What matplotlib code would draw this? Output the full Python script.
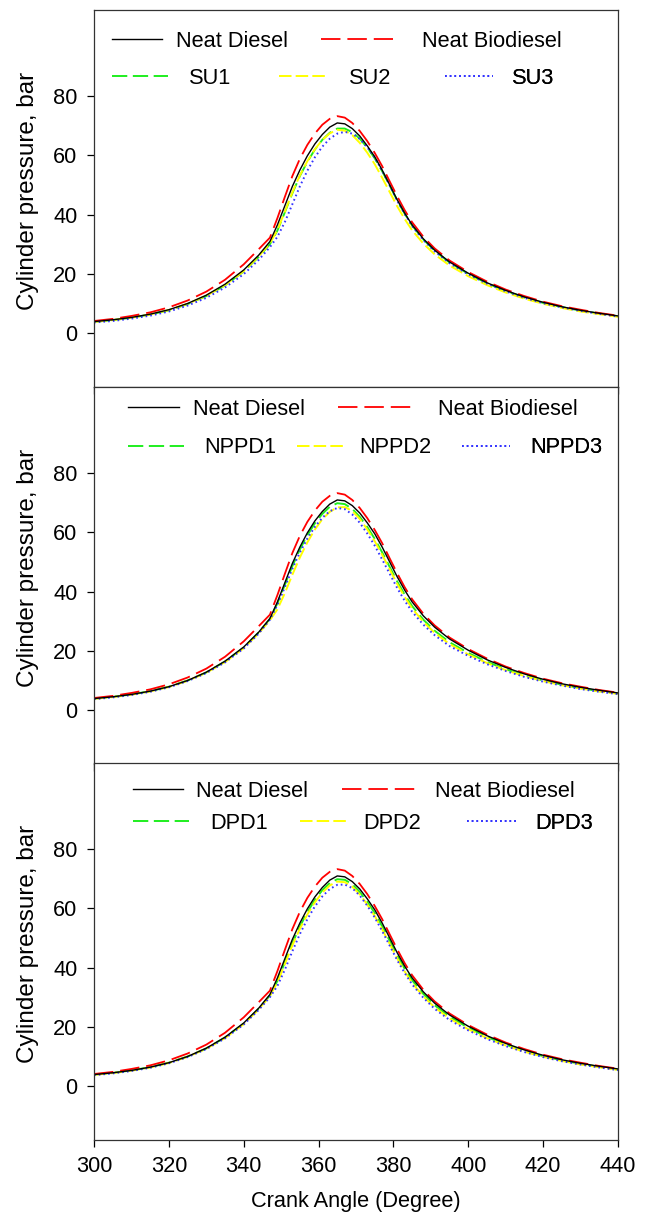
import matplotlib
matplotlib.use('Agg')
import matplotlib.pyplot as plt
from matplotlib.lines import Line2D

plt.rcParams['font.family'] = ['Liberation Sans', 'DejaVu Sans']
plt.rcParams['lines.scale_dashes'] = False

# crank angle (degree)
crank_angle = [300, 305, 310, 315, 320, 325, 330, 335, 340, 344, 347, 349, 351, 353, 355, 357, 359,
               361, 363, 365, 367, 369, 371, 373, 375, 377, 379, 381, 383, 385, 388, 391, 395, 400,
               405, 410, 415, 420, 425, 430, 435, 440]

# reference fuels (same in every panel)
neat_diesel = [3.9, 4.5, 5.3, 6.4, 7.9, 10.0, 12.8, 16.5, 21.3, 26.3, 30.9, 36.5, 43.0, 49.5, 55.0, 59.8, 63.8,
               67.0, 69.5, 70.9, 70.6, 69.0, 66.5, 63.2, 59.5, 55.0, 50.0, 45.0, 40.5, 36.5, 31.8, 28.0, 24.0, 20.2,
               17.0, 14.4, 12.2, 10.4, 8.9, 7.7, 6.7, 5.8]
neat_biodiesel = [4.1, 4.8, 5.8, 7.0, 8.7, 11.0, 14.0, 18.0, 23.2, 28.3, 32.2, 38.8, 46.0, 53.0, 58.8, 63.5, 67.3,
                  70.3, 72.3, 73.2, 72.7, 70.9, 68.2, 64.8, 60.8, 56.3, 51.2, 46.2, 41.5, 37.4, 32.5, 28.6, 24.5, 20.6,
                  17.4, 14.7, 12.5, 10.6, 9.1, 7.9, 6.8, 5.9]

# panel 1: SU blends
su1 = [3.8, 4.4, 5.2, 6.3, 7.7, 9.8, 12.5, 16.1, 20.8, 25.7, 30.0, 34.6, 40.8, 47.2, 53.0, 57.8, 61.9,
       65.2, 67.6, 69.0, 69.0, 67.8, 65.6, 62.6, 59.0, 54.6, 49.8, 44.8, 40.3, 36.3, 31.6, 27.8, 23.8, 20.0,
       16.8, 14.2, 12.0, 10.2, 8.8, 7.6, 6.6, 5.7]
su2 = [3.8, 4.4, 5.2, 6.3, 7.8, 9.9, 12.6, 16.2, 20.9, 25.9, 30.3, 34.8, 41.0, 47.5, 53.2, 58.0, 62.0,
       65.2, 67.4, 68.6, 68.3, 66.8, 64.2, 60.9, 57.0, 52.4, 47.6, 42.8, 38.5, 34.7, 30.2, 26.6, 22.8, 19.2,
       16.2, 13.7, 11.6, 9.9, 8.5, 7.3, 6.4, 5.5]
su3 = [3.6, 4.1, 4.9, 5.9, 7.3, 9.3, 11.9, 15.4, 19.9, 24.7, 29.0, 32.5, 37.5, 43.5, 49.5, 54.8, 59.3,
       62.9, 65.6, 67.3, 67.9, 67.3, 65.5, 62.7, 59.2, 54.8, 49.8, 44.7, 40.2, 36.1, 31.4, 27.6, 23.6, 19.8,
       16.7, 14.1, 11.9, 10.1, 8.7, 7.5, 6.5, 5.6]

# panel 2: NPPD blends
nppd1 = [3.9, 4.5, 5.3, 6.4, 7.9, 10.0, 12.7, 16.4, 21.1, 26.2, 30.8, 36.0, 42.3, 48.6, 54.2, 59.0, 63.0,
         66.2, 68.6, 69.8, 69.5, 67.9, 65.2, 61.8, 57.8, 53.2, 48.3, 43.4, 39.0, 35.1, 30.5, 26.8, 22.9, 19.3,
         16.3, 13.8, 11.7, 10.0, 8.6, 7.4, 6.4, 5.6]
nppd2 = [3.8, 4.4, 5.2, 6.3, 7.8, 9.9, 12.6, 16.2, 20.9, 25.9, 30.3, 34.0, 39.5, 45.7, 51.5, 56.6, 60.9,
         64.4, 66.9, 68.4, 68.5, 67.2, 64.5, 61.0, 57.0, 52.4, 47.5, 42.6, 38.2, 34.3, 29.8, 26.1, 22.3, 18.8,
         15.9, 13.5, 11.5, 9.8, 8.4, 7.3, 6.3, 5.5]
nppd3 = [3.7, 4.3, 5.1, 6.2, 7.7, 9.8, 12.5, 16.1, 20.8, 25.8, 30.5, 35.5, 41.5, 47.7, 53.2, 57.9, 61.8,
         64.9, 67.1, 68.2, 67.8, 66.0, 63.2, 59.6, 55.5, 50.8, 46.0, 41.2, 36.9, 33.2, 28.8, 25.3, 21.6, 18.3,
         15.5, 13.2, 11.2, 9.6, 8.3, 7.1, 6.2, 5.4]

# panel 3: DPD blends
dpd1 = [3.9, 4.5, 5.3, 6.4, 7.9, 10.0, 12.7, 16.4, 21.1, 26.1, 30.6, 35.5, 41.8, 48.2, 53.8, 58.7, 62.8,
        66.1, 68.5, 69.8, 69.6, 68.1, 65.5, 62.2, 58.4, 53.9, 49.0, 44.1, 39.6, 35.7, 31.1, 27.3, 23.4, 19.7,
        16.6, 14.0, 11.9, 10.1, 8.7, 7.5, 6.5, 5.6]
dpd2 = [3.8, 4.4, 5.2, 6.3, 7.8, 9.9, 12.6, 16.2, 20.9, 25.9, 30.4, 35.0, 41.2, 47.5, 53.1, 57.9, 62.0,
        65.3, 67.7, 69.0, 68.8, 67.3, 64.7, 61.3, 57.4, 52.9, 48.0, 43.1, 38.7, 34.8, 30.3, 26.6, 22.8, 19.2,
        16.2, 13.7, 11.6, 9.9, 8.5, 7.3, 6.4, 5.5]
dpd3 = [3.7, 4.3, 5.1, 6.2, 7.7, 9.8, 12.5, 16.1, 20.8, 25.7, 30.0, 33.8, 39.3, 45.5, 51.3, 56.3, 60.6,
        64.0, 66.5, 67.9, 68.0, 66.8, 64.3, 60.9, 56.9, 52.3, 47.4, 42.5, 38.2, 34.3, 29.8, 26.1, 22.3, 18.8,
        15.9, 13.5, 11.5, 9.8, 8.4, 7.3, 6.3, 5.4]

panel_series = [
    (['SU1', 'SU2', 'SU3'], [su1, su2, su3]),
    (['NPPD1', 'NPPD2', 'NPPD3'], [nppd1, nppd2, nppd3]),
    (['DPD1', 'DPD2', 'DPD3'], [dpd1, dpd2, dpd3]),
]
y_ticks = [0, 20, 40, 60, 80]
x_ticks = [300, 320, 340, 360, 380, 400, 420, 440]

# line styles: colour, width, dash pattern (points)
styles = [
    ('black', 1.0, None),
    ('#ff0000', 1.3, (14, 5)),
    ('#1fee1f', 1.4, (11, 4)),
    ('#ffff00', 1.4, (9, 3)),
    ('#3333ff', 1.4, (1.2, 2.2)),
]

# legend placement per panel, in pixels: (row, handle start, handle length, text pad)
legend_layout = [
    [(0, 112, 50, 14), (0, 321, 72, 29), (1, 112, 56, 21), (1, 279, 50, 20), (1, 445, 48, 19)],
    [(0, 128, 51, 14), (0, 338, 73, 27), (1, 128, 56, 20), (1, 297, 50, 12), (1, 462, 48, 20)],
    [(0, 133, 50, 13), (0, 342, 73, 20), (1, 133, 56, 21), (1, 300, 50, 13), (1, 467, 50, 18)],
]
row_y = [(0.916, 0.819), (0.941, 0.838), (0.924, 0.840)]

fs = 15.7
em_px = fs * 100 / 72.0
W, H = 648, 1213
ax_left, ax_right = 94, 618
panel_tops = [10, 387, 763]
panel_h = 376.5

fig = plt.figure(figsize=(W / 100, H / 100), dpi=100)

for i in range(3):
    top = panel_tops[i]
    ax = fig.add_axes([ax_left / W, 1 - (top + panel_h) / H, (ax_right - ax_left) / W, panel_h / H])
    names, blends = panel_series[i]
    labels = ['Neat Diesel', 'Neat Biodiesel'] + names
    series = [neat_diesel, neat_biodiesel] + blends
    # blends first, then biodiesel and diesel on top
    for k in [2, 3, 4, 1, 0]:
        color, lw, dash = styles[k]
        ln, = ax.plot(crank_angle, series[k], color=color, lw=lw)
        if dash is not None:
            ln.set_dashes(dash)

    ax.set_xlim(300, 440)
    ax.set_ylim(-18, 109)
    ax.set_xticks(x_ticks)
    ax.set_yticks(y_ticks)
    ax.tick_params(direction='out', length=5, width=0.9, labelsize=fs, pad=7,
                   top=False, right=False)
    if i < 2:
        ax.tick_params(axis='x', labelbottom=False)
    for sp in ax.spines.values():
        sp.set_linewidth(0.9)
        sp.set_color('#333333')
    ax.set_ylabel('Cylinder pressure, bar', fontsize=17.5)
    ax.yaxis.set_label_coords(-0.105, 0.52)

    # legend entries
    for k, (row, x0, hl, pad) in enumerate(legend_layout[i]):
        color, lw, dash = styles[k]
        h = Line2D([], [], color=color, lw=lw)
        if dash is not None:
            h.set_dashes(dash)
        leg = ax.legend([h], [labels[k]], loc='center left',
                        bbox_to_anchor=((x0 - ax_left) / (ax_right - ax_left), row_y[i][row]),
                        frameon=False, fontsize=fs, borderpad=0, borderaxespad=0,
                        handlelength=hl / em_px, handletextpad=pad / em_px)
        ax.add_artist(leg)

    if i == 2:
        ax.set_xlabel('Crank Angle (Degree)', fontsize=fs, labelpad=10)

fig.savefig('out.png', dpi=100)
